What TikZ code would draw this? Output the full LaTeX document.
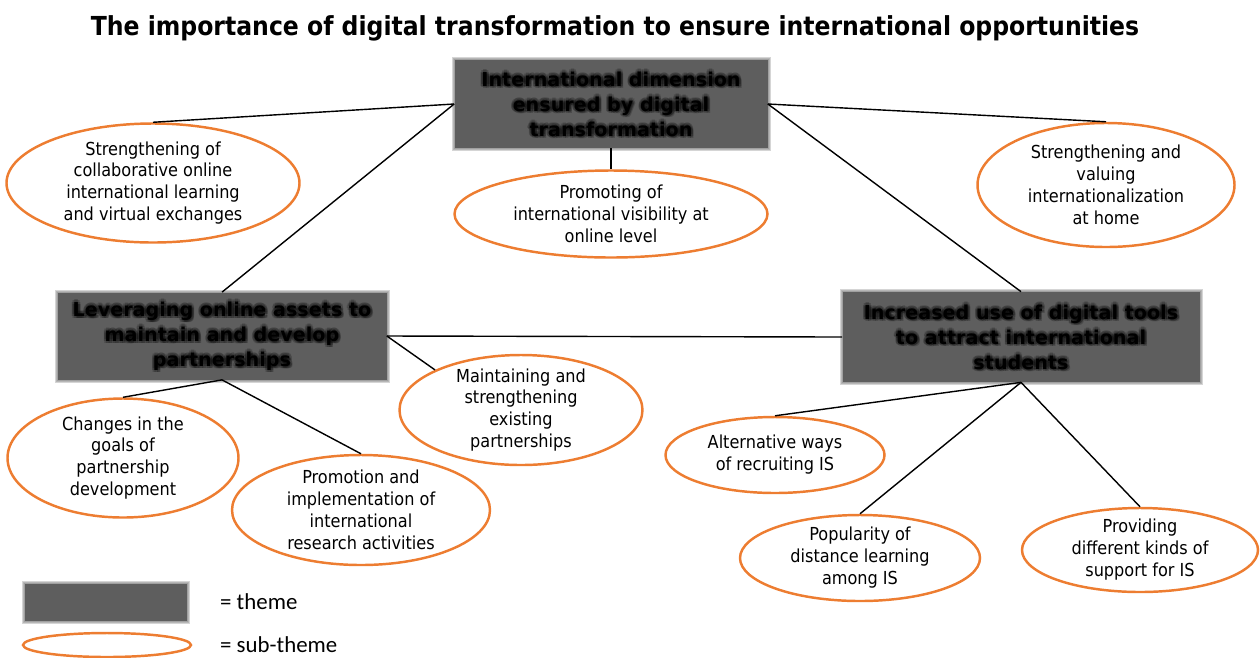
\documentclass[tikz,border=0pt]{standalone}
\usepackage{fontspec}
\newfontfamily\bubblefont{DejaVu Sans Condensed}
\newfontfamily\themefont{DejaVu Sans}
\newfontfamily\keyfont{Carlito}
\tikzset{>=stealth}
\usetikzlibrary{shapes.geometric}
\definecolor{themegray}{RGB}{94,94,94}
\definecolor{suborange}{RGB}{237,125,49}

\tikzset{
  wh/.style 2 args={minimum width=(#1)*0.02cm, minimum height=(#2)*0.02cm},
  themebox/.style={fill=themegray, inner sep=0pt},
  themehalo/.style={fill=themegray, opacity=.26, inner sep=0pt},
  themetext/.style={font=\themefont\bfseries\fontsize{10.9}{14.2}\selectfont, align=center, text=black},
  subtheme/.style={ellipse, draw=suborange, line width=1.4pt, inner sep=0pt},
  subtext/.style={font=\bubblefont\fontsize{10.2}{12.5}\selectfont, align=center},
  link/.style={line width=0.8pt},
}

% grey theme box with soft edges and shadowed bold text
\newcommand\themenode[5]{%
  \foreach \g in {1,...,3}
    \node[themehalo, wh={#3+2*\g}{#4+2*\g}] at (#2) {};
  \node[themebox, wh={#3}{#4}] (#1) at (#2) {};
  \foreach \dx/\dy in {1/-1,-1/1,1/1,-1/-1,1.4/0,-1.4/0,0/1.4,0/-1.4,1.5/-1.5}
    \node[themetext, text opacity=.2, xshift=\dx pt, yshift=\dy pt] at (#1) {#5};
  \node[themetext] at (#1) {#5};
}

\begin{document}
\begin{tikzpicture}[x=0.02cm, y=-0.02cm]
\useasboundingbox (0,0) rectangle (1260,657);

\node[font=\bubblefont\bfseries\fontsize{14.9}{18}\selectfont] (title) at (615,28)
  {The importance of digital transformation to ensure international opportunities};

% themes
\themenode{intl}{611,104}{313}{88}{International dimension\\ensured by digital\\transformation}
\themenode{assets}{222,336}{329}{87}{Leveraging online assets to\\maintain and develop\\partnerships}
\themenode{tools}{1021,337}{357}{90}{Increased use of digital tools\\to attract international\\students}

% sub-themes
\node[subtheme, wh={293}{119}, label={[subtext]center:{Strengthening of\\collaborative online\\international learning\\and virtual exchanges}}] (coil) at (153,183) {};
\node[subtheme, wh={313}{87}, label={[subtext]center:{Promoting of\\international visibility at\\online level}}] (visib) at (611,214) {};
\node[subtheme, wh={257}{124}, label={[subtext]center:{Strengthening and\\valuing\\internationalization\\at home}}] (home) at (1106,185) {};
\node[subtheme, wh={243}{110}, label={[subtext]center:{Maintaining and\\strengthening\\existing\\partnerships}}] (maint) at (521,410) {};
\node[subtheme, wh={231}{119}, label={[subtext]center:{Changes in the\\goals of\\partnership\\development}}] (goals) at (123,458) {};
\node[subtheme, wh={258}{110}, label={[subtext]center:{Promotion and\\implementation of\\international\\research activities}}] (research) at (361,510) {};
\node[subtheme, wh={219}{76}, label={[subtext]center:{Alternative ways\\of recruiting IS}}] (recruit) at (775,455) {};
\node[subtheme, wh={240}{86}, label={[subtext]center:{Popularity of\\distance learning\\among IS}}] (distance) at (860,558) {};
\node[subtheme, wh={236}{84}, label={[subtext]center:{Providing\\different kinds of\\support for IS}}] (support) at (1140,550) {};

% connectors
\draw[link] (intl.west) -- (coil.north);
\draw[link] (intl.west) -- (assets.north);
\draw[link] (intl.south) -- (visib.north);
\draw[link] (intl.east) -- (home.north);
\draw[link] (intl.east) -- (tools.north);
\draw[link] (assets.east) -- (tools.west);
\draw[link] (assets.east) -- (maint.155);
\draw[link] (assets.south) -- (goals.north);
\draw[link] (assets.south) -- (research.north);
\draw[link] (tools.south) -- (recruit.north);
\draw[link] (tools.south) -- (distance.north);
\draw[link] (tools.south) -- (support.north);

% key
\themenode{keybox}{106,602}{162}{37}{}
\node[subtheme, wh={168}{24}] (keyring) at (107,645) {};
\node[font=\keyfont\fontsize{13}{15}\selectfont, anchor=west] (keytheme) at (214,602) {= theme};
\node[font=\keyfont\fontsize{13}{15}\selectfont, anchor=west] (keysub) at (214,645) {= sub-theme};
\end{tikzpicture}
\end{document}
